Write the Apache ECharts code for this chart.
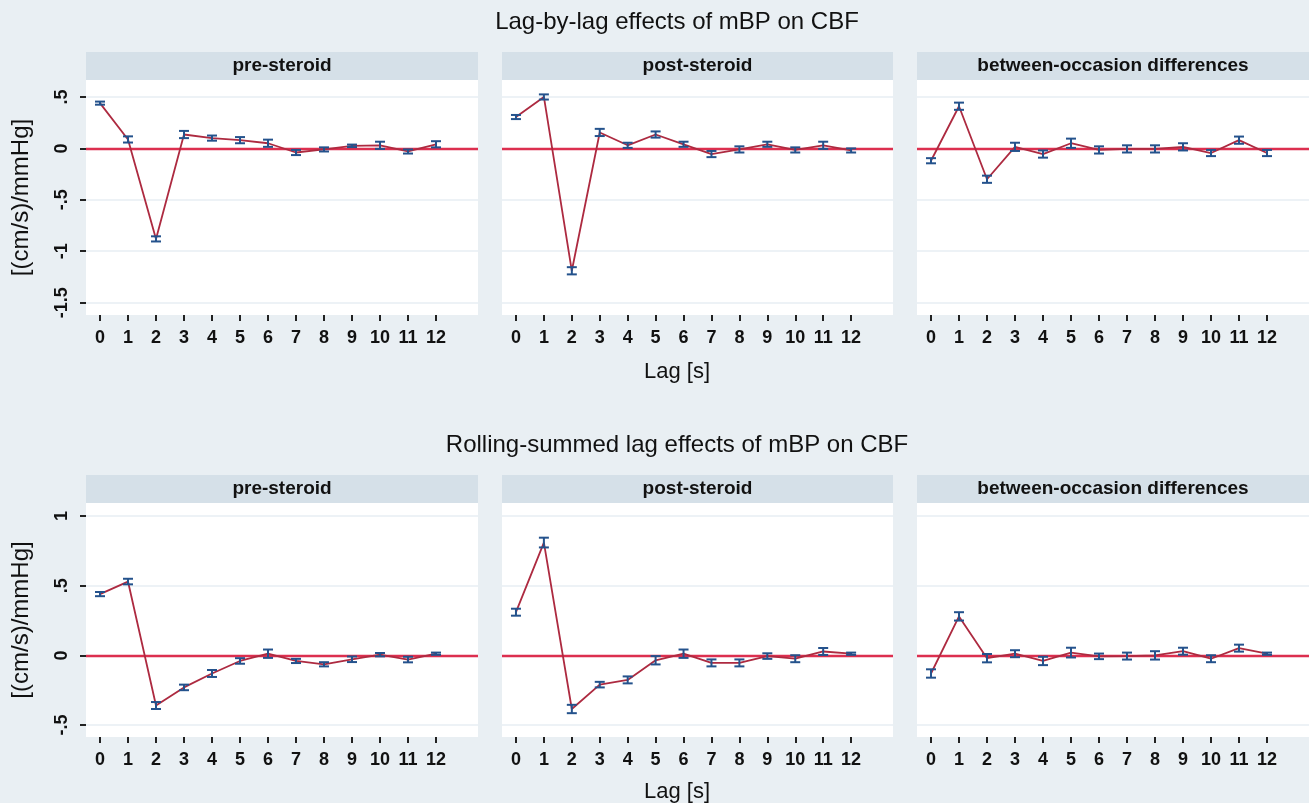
<!DOCTYPE html>
<html>
<head>
<meta charset="utf-8">
<script src="https://cdn.jsdelivr.net/npm/echarts@6/dist/echarts.min.js"></script>
<style>
html,body{margin:0;padding:0;background:#e9eff3;}
#chart{width:1309px;height:803px;}
</style>
</head>
<body>
<div id="chart"></div>
<script>
// ---------- data ----------
var lags = [0,1,2,3,4,5,6,7,8,9,10,11,12];
var panelTitles = ['pre-steroid','post-steroid','between-occasion differences'];
var rowTitles = ['Lag-by-lag effects of mBP on CBF','Rolling-summed lag effects of mBP on CBF'];
var xTitle = 'Lag [s]';
var yTitle = '[(cm/s)/mmHg]';

var topTicks = [-1.5,-1,-0.5,0,0.5];
var botTicks = [-0.5,0,0.5,1];

var topPre     = [0.44,0.087,-0.88,0.135,0.10,0.08,0.05,-0.04,-0.01,0.025,0.03,-0.03,0.04];
var topPreErr  = [0.015,0.03,0.025,0.035,0.025,0.03,0.035,0.025,0.02,0.012,0.035,0.02,0.03];
var topPost    = [0.305,0.50,-1.19,0.155,0.03,0.135,0.04,-0.055,-0.01,0.04,-0.015,0.03,-0.02];
var topPostErr = [0.02,0.025,0.035,0.035,0.025,0.03,0.025,0.03,0.03,0.025,0.025,0.035,0.02];
var topDiff    = [-0.12,0.41,-0.30,0.015,-0.055,0.05,-0.015,-0.005,-0.005,0.015,-0.045,0.08,-0.045];
var topDiffErr = [0.025,0.035,0.035,0.04,0.035,0.045,0.035,0.035,0.035,0.035,0.03,0.035,0.03];

var botPre     = [0.44,0.53,-0.36,-0.23,-0.13,-0.04,0.012,-0.04,-0.064,-0.028,0.005,-0.03,0.012];
var botPreErr  = [0.015,0.02,0.025,0.02,0.025,0.02,0.03,0.015,0.015,0.02,0.012,0.02,0.008];
var botPost    = [0.31,0.81,-0.385,-0.21,-0.176,-0.035,0.012,-0.054,-0.054,-0.005,-0.024,0.028,0.012];
var botPostErr = [0.025,0.035,0.03,0.02,0.025,0.03,0.03,0.025,0.025,0.02,0.025,0.025,0.008];
var botDiff    = [-0.13,0.28,-0.02,0.012,-0.04,0.02,-0.007,-0.005,0,0.03,-0.024,0.052,0.012];
var botDiffErr = [0.03,0.03,0.03,0.025,0.03,0.035,0.02,0.025,0.03,0.025,0.025,0.025,0.008];

// ---------- layout / style ----------
var colLeft = [86, 502, 917];
var colWidth = [392, 391, 392];
var rowTop = [80, 503];
var rowHeight = [235, 234];
var headerH = 28;
var yRange = [[-1.62, 0.665], [-0.586, 1.094]];
var FONT = 'Liberation Sans, Arial, sans-serif';
var BG = '#e9eff3', HEADER = '#d5e0e8', GRIDC = '#e7eef3';
var LINEC = '#ad2a40', ZEROC = '#dc2f4f', ERRC = '#24528c';
var TXT = '#111111';

var rowsData = [
  [[topPre, topPreErr],[topPost, topPostErr],[topDiff, topDiffErr]],
  [[botPre, botPreErr],[botPost, botPostErr],[botDiff, botDiffErr]]
];
var rowTicks = [topTicks, botTicks];

function stataFmt(v){
  if (v === 0) return '0';
  return String(v).replace(/^(-?)0\./, '$1.');
}

var grids = [], xAxes = [], yAxes = [], series = [], graphics = [];

for (var r = 0; r < 2; r++) {
  for (var c = 0; c < 3; c++) {
    var idx = r*3 + c;
    grids.push({left: colLeft[c], top: rowTop[r], width: colWidth[c], height: rowHeight[r],
      show: true, backgroundColor: '#ffffff', borderWidth: 0, containLabel: false});
    xAxes.push({
      type: 'value', gridIndex: idx, min: -0.5, max: 13.5, position: 'bottom',
      axisLine: {show: false, onZero: false},
      axisTick: {show: true, customValues: lags, length: 6, inside: false,
        lineStyle: {color: '#222', width: 2}},
      axisLabel: {show: true, customValues: lags, fontSize: 18, fontWeight: 'bold', color: TXT,
        fontFamily: FONT, margin: 14},
      splitLine: {show: false}
    });
    var ticks = rowTicks[r];
    yAxes.push({
      type: 'value', gridIndex: idx, min: yRange[r][0], max: yRange[r][1], position: 'left',
      axisLine: {show: false, onZero: false},
      axisTick: {show: c === 0, customValues: ticks, length: 6,
        lineStyle: {color: '#222', width: 2}},
      axisLabel: {show: c === 0, customValues: ticks, rotate: 90, fontSize: 18, fontWeight: 'bold',
        color: TXT, fontFamily: FONT, margin: 15, formatter: stataFmt},
      splitLine: {show: false},
      name: c === 0 ? yTitle : '', nameLocation: 'middle', nameRotate: 90, nameGap: 53,
      nameTextStyle: {fontSize: 24, color: TXT, fontFamily: FONT}
    });
    var vals = rowsData[r][c][0], errs = rowsData[r][c][1];
    var lineData = lags.map(function(l, i){ return [l, vals[i]]; });
    var errData = lags.map(function(l, i){ return [l, vals[i]-errs[i], vals[i]+errs[i]]; });
    var ml = ticks.filter(function(t){return t !== 0;}).map(function(t){
      return {yAxis: t, lineStyle: {color: GRIDC, width: 1.5, type: 'solid'}};
    });
    ml.push({yAxis: 0, lineStyle: {color: ZEROC, width: 2.4, type: 'solid'}});
    series.push({
      type: 'line', xAxisIndex: idx, yAxisIndex: idx, data: lineData, z: 1,
      showSymbol: false, lineStyle: {width: 0, opacity: 0}, silent: true,
      markLine: {silent: true, symbol: ['none','none'], label: {show: false}, data: ml, z: 1}
    });
    series.push({
      type: 'line', xAxisIndex: idx, yAxisIndex: idx, data: lineData, z: 3,
      showSymbol: false, lineStyle: {color: LINEC, width: 1.8}, silent: true
    });
    series.push({
      type: 'custom', xAxisIndex: idx, yAxisIndex: idx, data: errData, z: 4, silent: true,
      renderItem: function(params, api){
        var x = api.value(0);
        var lo = api.coord([x, api.value(1)]);
        var hi = api.coord([x, api.value(2)]);
        var w = 5;
        var st = {stroke: ERRC, lineWidth: 2};
        return {type: 'group', children: [
          {type: 'line', shape: {x1: lo[0], y1: lo[1], x2: hi[0], y2: hi[1]}, style: st},
          {type: 'line', shape: {x1: lo[0]-w, y1: lo[1], x2: lo[0]+w, y2: lo[1]}, style: st},
          {type: 'line', shape: {x1: hi[0]-w, y1: hi[1], x2: hi[0]+w, y2: hi[1]}, style: st}
        ]};
      }
    });
    graphics.push({type: 'rect', left: colLeft[c], top: rowTop[r]-headerH,
      shape: {width: colWidth[c], height: headerH}, style: {fill: HEADER}, silent: true});
    graphics.push({type: 'text', x: colLeft[c] + colWidth[c]/2, y: rowTop[r]-headerH/2,
      style: {text: panelTitles[c], fontSize: 19, fontWeight: 'bold', fontFamily: FONT, fill: TXT,
        textAlign: 'center', textVerticalAlign: 'middle'}, silent: true});
  }
}

var titleY = [22, 445];
var xTitleY = [372, 792];
for (var r2 = 0; r2 < 2; r2++) {
  graphics.push({type: 'text', x: 677, y: titleY[r2],
    style: {text: rowTitles[r2], fontSize: 24, fontFamily: FONT, fill: TXT,
      textAlign: 'center', textVerticalAlign: 'middle'}, silent: true});
  graphics.push({type: 'text', x: 677, y: xTitleY[r2],
    style: {text: xTitle, fontSize: 22, fontFamily: FONT, fill: TXT,
      textAlign: 'center', textVerticalAlign: 'middle'}, silent: true});
}

var chart = echarts.init(document.getElementById('chart'), null, {renderer: 'canvas'});
chart.setOption({
  backgroundColor: BG,
  animation: false,
  grid: grids,
  xAxis: xAxes,
  yAxis: yAxes,
  series: series,
  graphic: graphics
});
</script>
</body>
</html>
